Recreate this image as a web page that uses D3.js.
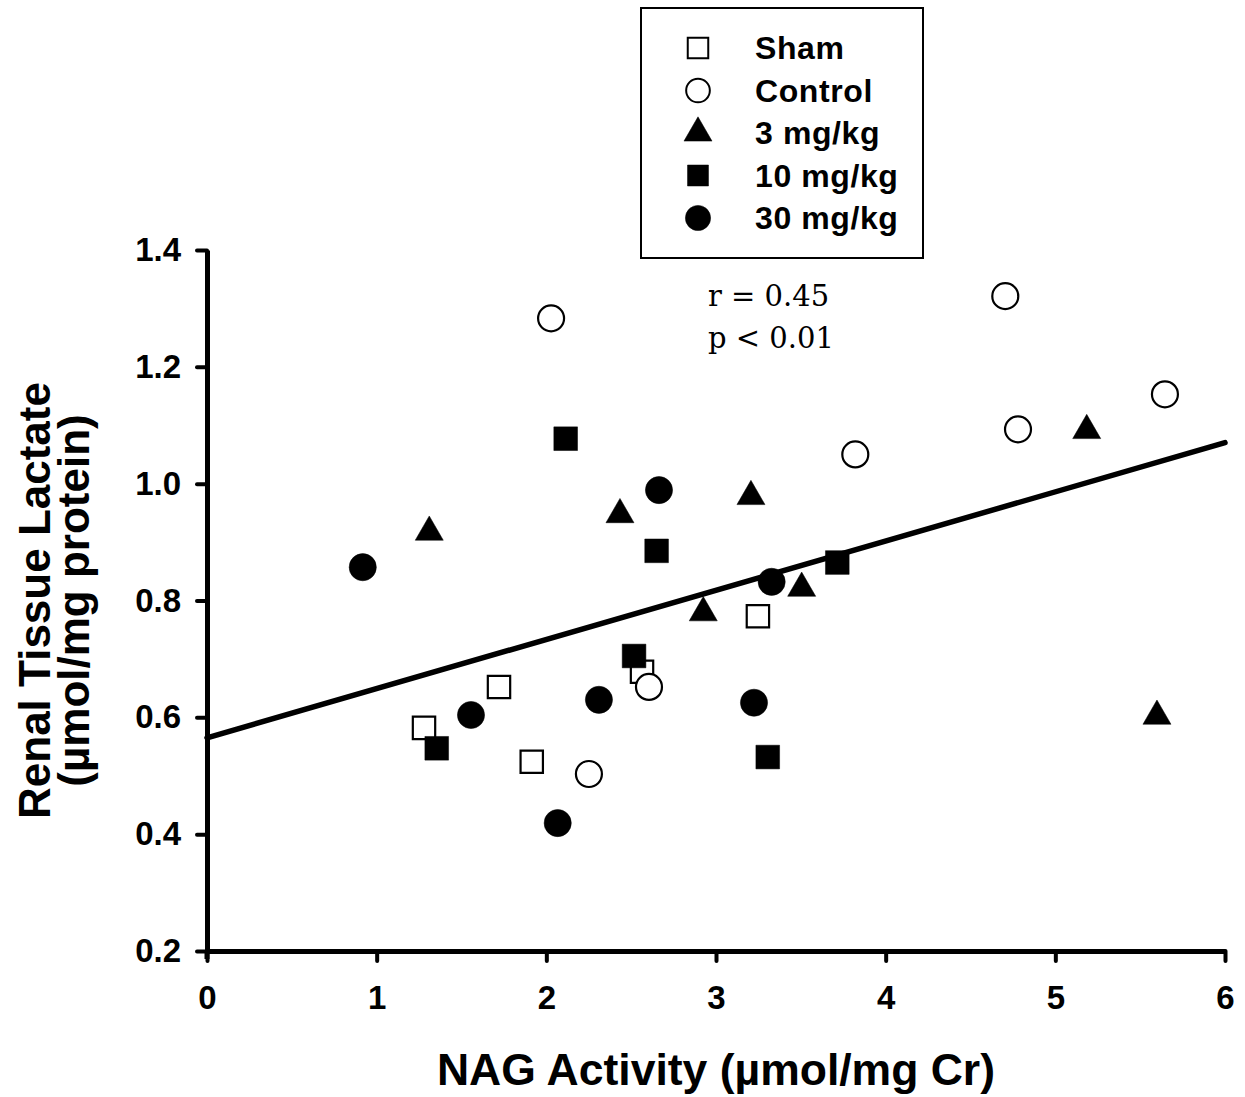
<!DOCTYPE html>
<html>
<head>
<meta charset="utf-8">
<script src="https://cdn.jsdelivr.net/npm/d3@7"></script>
<style>
  html, body { margin: 0; padding: 0; background: #fff; }
  svg { display: block; }
</style>
</head>
<body>
<svg id="chart" width="1245" height="1097"></svg>
<script>
// ---- data ----
const groupNames = ["Sham", "Control", "3 mg/kg", "10 mg/kg", "30 mg/kg"];
const shamX = [1.279, 1.721, 1.914, 2.564, 3.247];
const shamY = [0.582, 0.652, 0.524, 0.678, 0.773];
const controlX = [2.028, 4.705, 5.646, 4.780, 3.821, 2.605, 2.251];
const controlY = [1.283, 1.321, 1.153, 1.093, 1.050, 0.652, 0.503];
const mg3X = [1.310, 2.434, 3.206, 5.185, 2.925, 3.505, 5.599];
const mg3Y = [0.917, 0.947, 0.978, 1.091, 0.779, 0.821, 0.602];
const mg10X = [2.114, 2.650, 2.517, 1.354, 3.305, 3.715];
const mg10Y = [1.077, 0.885, 0.705, 0.547, 0.532, 0.865];
const mg30X = [0.918, 2.664, 3.328, 1.556, 2.310, 3.224, 2.067];
const mg30Y = [0.857, 0.989, 0.832, 0.604, 0.630, 0.625, 0.419];
const xTicks = [0, 1, 2, 3, 4, 5, 6];
const yTicks = [0.2, 0.4, 0.6, 0.8, 1.0, 1.2, 1.4];
const fitIntercept = 0.565;
const fitSlope = 0.0842;
const statLines = ["r = 0.45", "p < 0.01"];
const xTitle = "NAG Activity (µmol/mg Cr)";
const yTitleLines = ["Renal Tissue Lactate", "(µmol/mg protein)"];

// ---- layout ----
const svg = d3.select("#chart");
const sans = "'Liberation Sans', Arial, Helvetica, sans-serif";
const x = d3.scaleLinear().domain([0, 6]).range([207, 1225]);
const y = d3.scaleLinear().domain([0.2, 1.4]).range([951, 250]);

// axes
const axisStroke = 5;
const yAxis = svg.append("g").attr("transform", `translate(${x(0)},0)`)
  .call(d3.axisLeft(y).tickValues(yTicks).tickSize(10).tickSizeOuter(0).tickPadding(16)
    .tickFormat(d3.format(".1f")));
const xAxis = svg.append("g").attr("transform", `translate(0,${y(0.2)})`)
  .call(d3.axisBottom(x).tickValues(xTicks).tickSize(10).tickSizeOuter(0).tickPadding(25)
    .tickFormat(d3.format("d")));
[xAxis, yAxis].forEach(g => {
  g.select(".domain").attr("stroke", "#000").attr("stroke-width", axisStroke);
  g.selectAll(".tick line").attr("stroke", "#000").attr("stroke-width", 4)
    .attr("stroke-linecap", "round");
  g.selectAll(".tick text").attr("fill", "#000")
    .style("font-family", sans).style("font-weight", "bold").style("font-size", "33px");
});
// extend y axis slightly below x axis
svg.append("line").attr("x1", x(0)).attr("x2", x(0))
  .attr("y1", y(0.2)).attr("y2", y(0.2) + 8)
  .attr("stroke", "#000").attr("stroke-width", axisStroke);

// axis titles
svg.append("text").attr("x", (x(0) + x(6)) / 2).attr("y", 1085)
  .attr("text-anchor", "middle")
  .style("font-family", sans).style("font-weight", "bold").style("font-size", "44.5px")
  .text(xTitle);
const yMid = (y(0.2) + y(1.4)) / 2;
yTitleLines.forEach((t, i) => {
  const bx = i === 0 ? 50 : 89;
  svg.append("text")
    .attr("transform", `translate(${bx},${yMid}) rotate(-90)`)
    .attr("text-anchor", "middle")
    .style("font-family", sans).style("font-weight", "bold").style("font-size", "44px")
    .text(t);
});

// regression line
svg.append("line")
  .attr("x1", x(0)).attr("y1", y(fitIntercept))
  .attr("x2", x(6)).attr("y2", y(fitIntercept + fitSlope * 6))
  .attr("stroke", "#000").attr("stroke-width", 5.5).attr("stroke-linecap", "round");

// markers
const groups = [
  { name: groupNames[0], xs: shamX, ys: shamY, shape: d3.symbolSquare, size: 500, fill: "#fff" },
  { name: groupNames[1], xs: controlX, ys: controlY, shape: d3.symbolCircle, size: 530, fill: "#fff" },
  { name: groupNames[2], xs: mg3X, ys: mg3Y, shape: d3.symbolTriangle, size: 340, fill: "#000" },
  { name: groupNames[3], xs: mg10X, ys: mg10Y, shape: d3.symbolSquare, size: 560, fill: "#000" },
  { name: groupNames[4], xs: mg30X, ys: mg30Y, shape: d3.symbolCircle, size: 580, fill: "#000" }
];
groups.forEach(g => {
  const pts = g.xs.map((v, i) => [v, g.ys[i]]);
  svg.append("g").selectAll("path").data(pts).join("path")
    .attr("transform", d => `translate(${x(d[0])},${y(d[1])})`)
    .attr("d", d3.symbol().type(g.shape).size(g.size)())
    .attr("fill", g.fill)
    .attr("stroke", "#000")
    .attr("stroke-width", g.fill === "#fff" ? 2.2 : 0.5);
});

// stats text
const serif = "'DejaVu Serif', 'Liberation Serif', serif";
statLines.forEach((t, i) => {
  svg.append("text").attr("x", 708).attr("y", 306 + i * 42)
    .style("font-family", serif).style("font-size", "29px")
    .text(t);
});

// legend
const lg = svg.append("g");
lg.append("rect").attr("x", 641).attr("y", 8).attr("width", 282).attr("height", 250)
  .attr("fill", "#fff").attr("stroke", "#000").attr("stroke-width", 2);
const legendSizes = [420, 440, 340, 440, 500];
groups.forEach((g, i) => {
  const cy = 48 + i * 42.5;
  lg.append("path")
    .attr("transform", `translate(698,${cy})`)
    .attr("d", d3.symbol().type(g.shape).size(legendSizes[i])())
    .attr("fill", g.fill).attr("stroke", "#000")
    .attr("stroke-width", g.fill === "#fff" ? 2 : 0.5);
  lg.append("text").attr("x", 755).attr("y", cy + 11)
    .style("font-family", sans).style("font-weight", "bold").style("font-size", "32px")
    .style("letter-spacing", "0.6px")
    .text(g.name);
});
</script>
</body>
</html>
